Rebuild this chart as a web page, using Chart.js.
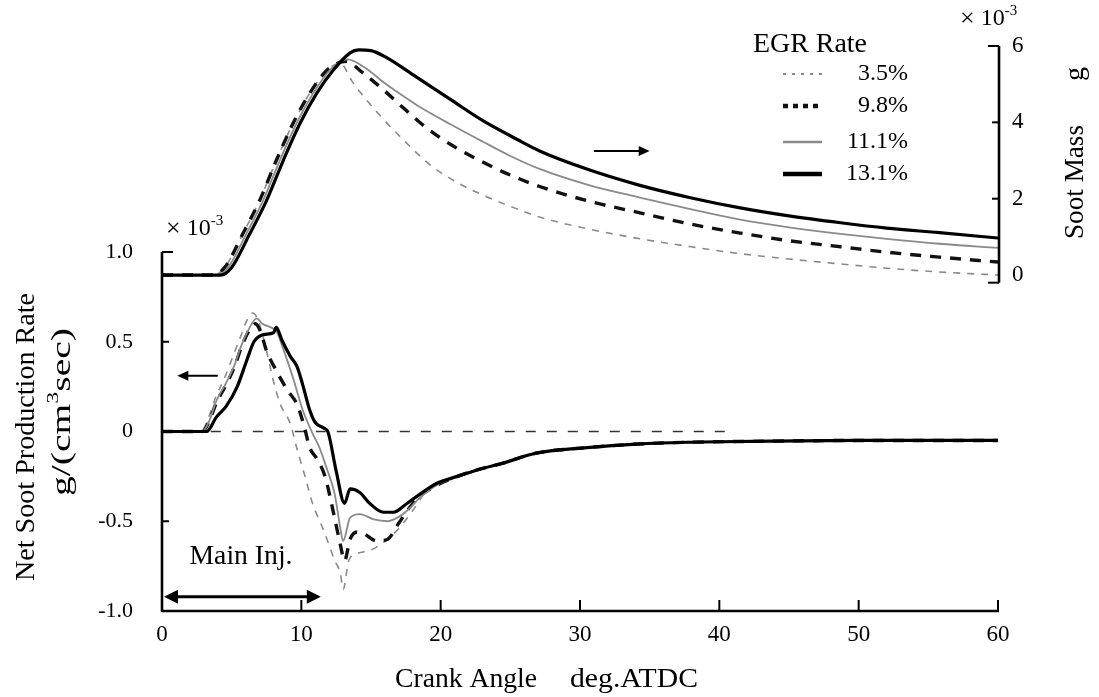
<!DOCTYPE html>
<html>
<head>
<meta charset="utf-8">
<script src="https://cdn.jsdelivr.net/npm/chart.js@4.4.1/dist/chart.umd.min.js"></script>
<style>
  html, body { margin: 0; padding: 0; background: #fff; }
  #wrap { width: 1099px; height: 697px; }
</style>
</head>
<body>
<div id="wrap"><canvas id="sootChart" width="1099" height="697"></canvas></div>
<script>
// EGR series shown in the legend
const egrRates = ['3.5%', '9.8%', '11.1%', '13.1%'];

// axis ticks
const angleTicks = [0, 10, 20, 30, 40, 50, 60];
const rateTicks = [-1.0, -0.5, 0, 0.5, 1.0];
const massTicks = [0, 2, 4, 6];

// Soot mass (right axis, x10^-3 g) vs crank angle (deg ATDC)
const massAngle35 = [0, 3.7, 4.5, 5.8, 7.0, 8.2, 9.4, 10.6, 11.8, 12.8, 13.6, 14.2, 15.6, 17.3, 19.2, 21.2, 23.0, 25.0, 27.1, 30.7, 34.3, 38, 41.5, 45, 48.7, 52, 55.8, 60];
const mass35 = [0, 0, 0.2, 1.08, 1.95, 3.0, 3.97, 4.76, 5.35, 5.55, 5.1, 4.8, 4.2, 3.55, 2.9, 2.42, 2.1, 1.8, 1.52, 1.2, 0.95, 0.74, 0.56, 0.42, 0.29, 0.18, 0.08, 0.0];

const massAngle98 = [0, 3.7, 4.5, 5.8, 7.0, 8.2, 9.4, 10.6, 11.8, 12.6, 13.2, 14.4, 15.9, 17.1, 19.0, 20.9, 22.8, 24.8, 27.1, 30.7, 34.3, 38, 41.5, 45, 48.7, 52, 55.8, 60];
const mass98 = [0, 0, 0.2, 1.08, 1.95, 3.0, 3.97, 4.76, 5.35, 5.55, 5.6, 5.3, 4.85, 4.45, 3.85, 3.38, 3.0, 2.65, 2.32, 1.93, 1.63, 1.33, 1.1, 0.9, 0.74, 0.6, 0.47, 0.34];

const massAngle111 = [0, 3.95, 4.75, 6.05, 7.25, 8.45, 9.65, 10.85, 12.05, 13.3, 14.5, 15.9, 17.1, 18.3, 20.7, 23.0, 25.0, 27.1, 30.7, 34.3, 38, 41.5, 45, 48.7, 52, 55.8, 60];
const mass111 = [0, 0, 0.2, 1.08, 1.95, 3.0, 3.97, 4.76, 5.37, 5.65, 5.45, 5.05, 4.74, 4.45, 3.95, 3.5, 3.12, 2.78, 2.35, 2.03, 1.72, 1.45, 1.25, 1.08, 0.95, 0.82, 0.71];

const massAngle131 = [0, 4.2, 5.0, 6.3, 7.5, 8.7, 9.9, 11.1, 12.3, 13.5, 14.1, 15.0, 16.0, 18.0, 20.7, 23.0, 25.5, 27.1, 30.7, 34.3, 38, 41.5, 45, 48.7, 52, 55.8, 60];
const mass131 = [0, 0, 0.2, 1.08, 1.95, 3.0, 3.97, 4.76, 5.37, 5.82, 5.9, 5.88, 5.72, 5.25, 4.6, 4.05, 3.55, 3.25, 2.75, 2.35, 2.02, 1.76, 1.55, 1.37, 1.23, 1.11, 0.97];

// Net soot production rate (left axis, x10^-3 g/(cm3 sec))
const rateAngle35 = [0, 2.8, 3.3, 3.8, 4.5, 5.1, 5.6, 6.1, 6.5, 6.9, 7.5, 8.0, 8.5, 9.2, 9.7, 10.3, 10.8, 11.6, 12.4, 12.8, 13.0, 13.4, 14.0, 15.0, 16.0, 17.0, 18.0, 19.0, 20.0, 21.2, 22.8, 24.3, 26.9, 30.5, 34.1, 37.7, 42.4, 50, 60];
const rate35 = [0, 0, 0.07, 0.18, 0.30, 0.42, 0.52, 0.62, 0.66, 0.62, 0.45, 0.28, 0.15, 0.045, -0.1, -0.26, -0.4, -0.55, -0.72, -0.79, -0.88, -0.72, -0.68, -0.66, -0.61, -0.54, -0.44, -0.33, -0.28, -0.25, -0.21, -0.18, -0.12, -0.09, -0.07, -0.06, -0.055, -0.05, -0.05];

const rateAngle98 = [0, 2.9, 3.4, 3.9, 4.6, 5.2, 5.7, 6.3, 6.7, 7.1, 7.5, 8.2, 9.0, 9.7, 10.2, 10.6, 11.1, 11.7, 12.3, 12.8, 13.1, 13.5, 14.0, 14.5, 15.4, 16.2, 17.0, 17.7, 18.5, 19.7, 21.2, 22.8, 24.3, 26.9, 30.5, 34.1, 37.7, 42.4, 50, 60];
const rate98 = [0, 0, 0.06, 0.16, 0.26, 0.36, 0.47, 0.57, 0.60, 0.55, 0.45, 0.34, 0.23, 0.15, 0.03, -0.09, -0.15, -0.25, -0.45, -0.63, -0.72, -0.60, -0.56, -0.57, -0.61, -0.60, -0.51, -0.43, -0.36, -0.30, -0.25, -0.21, -0.18, -0.12, -0.09, -0.07, -0.06, -0.055, -0.05, -0.05];

const rateAngle111 = [0, 2.9, 3.4, 3.9, 4.6, 5.2, 5.7, 6.3, 6.8, 7.2, 7.8, 8.2, 8.7, 9.4, 10.1, 10.8, 11.3, 11.8, 12.4, 12.8, 13.0, 13.5, 14.2, 15.2, 16.2, 16.9, 17.6, 18.5, 19.7, 21.2, 22.8, 24.3, 26.9, 30.5, 34.1, 37.7, 42.4, 50, 60];
const rate111 = [0, 0, 0.06, 0.17, 0.27, 0.37, 0.48, 0.58, 0.63, 0.6, 0.58, 0.56, 0.46, 0.30, 0.12, -0.01, -0.09, -0.2, -0.35, -0.54, -0.61, -0.48, -0.46, -0.49, -0.5, -0.48, -0.44, -0.37, -0.30, -0.25, -0.21, -0.18, -0.12, -0.09, -0.07, -0.06, -0.055, -0.05, -0.05];

const rateAngle131 = [0, 3.2, 3.9, 4.6, 5.4, 6.1, 6.6, 7.3, 8.0, 8.2, 8.6, 9.2, 9.7, 10.1, 10.6, 11.0, 11.6, 11.9, 12.5, 13.1, 13.5, 14.2, 14.9, 15.9, 16.6, 17.6, 18.5, 19.7, 21.2, 22.8, 24.3, 26.9, 30.5, 34.1, 37.7, 42.4, 50, 60];
const rate131 = [0, 0, 0.08, 0.14, 0.25, 0.40, 0.50, 0.54, 0.55, 0.58, 0.51, 0.42, 0.36, 0.26, 0.12, 0.05, 0.02, 0.0, -0.22, -0.40, -0.32, -0.34, -0.40, -0.45, -0.45, -0.40, -0.35, -0.29, -0.25, -0.21, -0.18, -0.12, -0.09, -0.07, -0.06, -0.055, -0.05, -0.05];

// zero reference of the production rate
const zeroAngle = [3.5, 41];
const zeroRate = [0, 0];

// main injection period (deg ATDC) and where its arrow sits on the rate axis
const mainInjAngle = [0, 11.4];
const mainInjRate = -0.92;

// arrows that point at the axis each curve group belongs to
const rateArrowAngle = [4.0, 1.1];
const rateArrowValue = 0.31;
const massArrowAngle = [31.0, 35.0];
const massArrowValue = 3.25;

const serif = "'Liberation Serif', 'Times New Roman', serif";

function pts(xs, ys) {
    return xs.map((x, i) => ({ x: x, y: ys[i] }));
}

// series styles, index follows egrRates
const styles = [
    { color: '#8a8a8a', width: 1.6, dash: [7, 7], legendDash: [3, 6], legendWidth: 2 },
    { color: '#111', width: 3.4, dash: [11, 9], legendDash: [5, 5], legendWidth: 4.5 },
    { color: '#8a8a8a', width: 1.8, dash: [], legendDash: [], legendWidth: 2.5 },
    { color: '#000', width: 3.2, dash: [], legendDash: [], legendWidth: 4.5 }
];

const massData = [pts(massAngle35, mass35), pts(massAngle98, mass98), pts(massAngle111, mass111), pts(massAngle131, mass131)];
const rateData = [pts(rateAngle35, rate35), pts(rateAngle98, rate98), pts(rateAngle111, rate111), pts(rateAngle131, rate131)];

const datasets = [];
// 13.1% first so it draws on top
for (let i = egrRates.length - 1; i >= 0; i--) {
    const st = styles[i];
    const common = {
        borderColor: st.color,
        borderWidth: st.width,
        borderDash: st.dash,
        pointRadius: 0,
        fill: false,
        cubicInterpolationMode: 'monotone'
    };
    datasets.push({ ...common, label: egrRates[i] + ' mass', data: massData[i], yAxisID: 'yR' });
    datasets.push({ ...common, label: egrRates[i] + ' rate', data: rateData[i], yAxisID: 'yL' });
}
datasets.push({
    label: 'zero',
    data: pts(zeroAngle, zeroRate),
    yAxisID: 'yL',
    borderColor: '#333',
    borderWidth: 1.6,
    borderDash: [10, 11],
    pointRadius: 0
});

function line(ctx, x1, y1, x2, y2) {
    ctx.beginPath();
    ctx.moveTo(x1, y1);
    ctx.lineTo(x2, y2);
    ctx.stroke();
}

function arrowHead(ctx, x, y, dir, len, half) {
    ctx.beginPath();
    ctx.moveTo(x, y);
    ctx.lineTo(x - dir * len, y - half);
    ctx.lineTo(x - dir * len, y + half);
    ctx.closePath();
    ctx.fill();
}

// draws text squeezed/stretched to a given width; parts allow superscripts
function richText(ctx, parts, x, y, width, align, rotate) {
    ctx.save();
    let total = 0;
    parts.forEach(p => {
        ctx.font = p.size + 'px ' + serif;
        p.w = ctx.measureText(p.t).width;
        total += p.w;
    });
    ctx.translate(x, y);
    if (rotate) ctx.rotate(-Math.PI / 2);
    const k = width ? width / total : 1;
    ctx.scale(k, 1);
    let cx = align === 'center' ? -total / 2 : (align === 'right' ? -total : 0);
    ctx.textBaseline = 'middle';
    ctx.textAlign = 'left';
    ctx.fillStyle = '#000';
    parts.forEach(p => {
        ctx.font = p.size + 'px ' + serif;
        ctx.fillText(p.t, cx, p.dy || 0);
        cx += p.w;
    });
    ctx.restore();
}

const frame = {
    id: 'frame',
    afterDraw(chart) {
        const { ctx, scales: { x, yL, yR } } = chart;
        ctx.save();
        ctx.strokeStyle = '#000';
        ctx.fillStyle = '#000';

        // bottom axis with inward ticks
        const x0 = x.getPixelForValue(0);
        const x60 = x.getPixelForValue(60);
        const yb = yL.getPixelForValue(-1);
        ctx.lineWidth = 2.5;
        line(ctx, x0, yb, x60 + 1, yb);
        ctx.lineWidth = 2;
        angleTicks.forEach(v => {
            if (v > 0) {
                const px = x.getPixelForValue(v);
                line(ctx, px, yb, px, yb - 11);
            }
        });

        // left axis, only over the rate range
        ctx.lineWidth = 2.6;
        line(ctx, x0, yb + 1, x0, yL.getPixelForValue(1));
        ctx.lineWidth = 2;
        rateTicks.forEach(v => {
            if (v === -1 || v === 0) return;
            const py = yL.getPixelForValue(v);
            line(ctx, x0, py, x0 + (v === 1 ? 11 : 7), py);
        });

        // right axis, only over the mass range
        const xr = x60 + 1;
        ctx.lineWidth = 2.6;
        line(ctx, xr, yR.getPixelForValue(6), xr, yR.getPixelForValue(-0.2));
        ctx.lineWidth = 2;
        massTicks.forEach(v => {
            const py = yR.getPixelForValue(v === 0 ? -0.2 : v);
            line(ctx, xr, py, xr - (v === 0 || v === 6 ? 11 : 7), py);
        });

        // main injection double arrow
        const iy = yL.getPixelForValue(mainInjRate);
        const ix1 = x.getPixelForValue(mainInjAngle[0]) + 2;
        const ix2 = x.getPixelForValue(mainInjAngle[1]);
        ctx.lineWidth = 3;
        line(ctx, ix1 + 8, iy, ix2 - 8, iy);
        arrowHead(ctx, ix1, iy, -1, 14, 7);
        arrowHead(ctx, ix2, iy, 1, 14, 7);

        // arrows pointing to the axis of each curve group
        ctx.lineWidth = 2;
        const ra = yL.getPixelForValue(rateArrowValue);
        const rs = x.getPixelForValue(rateArrowAngle[0]);
        const re = x.getPixelForValue(rateArrowAngle[1]);
        line(ctx, rs, ra, re + 8, ra);
        arrowHead(ctx, re, ra, -1, 11, 5);
        const ma = yR.getPixelForValue(massArrowValue);
        const ms = x.getPixelForValue(massArrowAngle[0]);
        const me = x.getPixelForValue(massArrowAngle[1]);
        line(ctx, ms, ma, me - 8, ma);
        arrowHead(ctx, me, ma, 1, 11, 5);
        ctx.restore();

        // texts
        richText(ctx, [{ t: 'Main Inj.', size: 28 }], 241, 557, 103, 'center');
        richText(ctx, [{ t: 'Crank Angle', size: 28 }], 395, 680, 142, 'left');
        richText(ctx, [{ t: 'deg.ATDC', size: 28 }], 570, 680, 128, 'left');
        richText(ctx, [{ t: 'Net Soot Production Rate', size: 28 }], 27, 437, 288, 'center', true);
        richText(ctx, [{ t: 'g/(cm', size: 28 }, { t: '3', size: 17, dy: -9 }, { t: 'sec)', size: 28 }], 63, 412, 168, 'center', true);
        richText(ctx, [{ t: 'Soot Mass', size: 28 }], 1076, 182, 114, 'center', true);
        richText(ctx, [{ t: 'g', size: 28 }], 1076, 74, 0, 'center', true);
        richText(ctx, [{ t: '\u00d7', size: 26 }, { t: ' 10', size: 24 }, { t: '-3', size: 15, dy: -8 }], 166, 229, 0, 'left');
        richText(ctx, [{ t: '\u00d7', size: 26 }, { t: ' 10', size: 24 }, { t: '-3', size: 15, dy: -8 }], 960, 19, 0, 'left');

        // legend
        richText(ctx, [{ t: 'EGR Rate', size: 27 }], 753, 45, 114, 'left');
        const rows = [74, 106, 142, 174];
        egrRates.forEach((r, i) => {
            const st = styles[i];
            ctx.save();
            ctx.strokeStyle = st.color;
            ctx.lineWidth = st.legendWidth;
            ctx.setLineDash(st.legendDash);
            line(ctx, 783, rows[i], 822, rows[i]);
            ctx.restore();
            richText(ctx, [{ t: r, size: 24 }], 908, rows[i], 0, 'right');
        });
    }
};

new Chart(document.getElementById('sootChart'), {
    type: 'line',
    data: { datasets: datasets },
    options: {
        responsive: false,
        animation: false,
        layout: { padding: { top: 46, left: 0, right: 0, bottom: 0 } },
        plugins: {
            legend: { display: false },
            tooltip: { enabled: false }
        },
        scales: {
            x: {
                type: 'linear',
                min: 0,
                max: 60,
                afterBuildTicks: s => { s.ticks = angleTicks.map(v => ({ value: v })); },
                afterFit: s => { s.height = 86; },
                grid: { display: false, drawTicks: false },
                border: { display: false },
                ticks: { color: '#000', font: { family: serif, size: 23 }, padding: 10, maxRotation: 0 }
            },
            yL: {
                position: 'left',
                min: -1,
                max: 2.1476,
                afterBuildTicks: s => { s.ticks = rateTicks.map(v => ({ value: v })); },
                afterFit: s => { s.width = 162; },
                grid: { display: false, drawTicks: false },
                border: { display: false },
                ticks: {
                    color: '#000',
                    font: { family: serif, size: 22 },
                    padding: 29,
                    callback: v => (v === 0 ? '0' : v.toFixed(1))
                }
            },
            yR: {
                position: 'right',
                min: -8.80,
                max: 6,
                afterBuildTicks: s => { s.ticks = massTicks.map(v => ({ value: v })); },
                afterFit: s => { s.width = 101; },
                grid: { display: false, drawTicks: false },
                border: { display: false },
                ticks: {
                    color: '#000',
                    font: { family: serif, size: 23 },
                    padding: 14,
                    callback: v => String(v)
                }
            }
        }
    },
    plugins: [frame]
});
</script>
</body>
</html>
